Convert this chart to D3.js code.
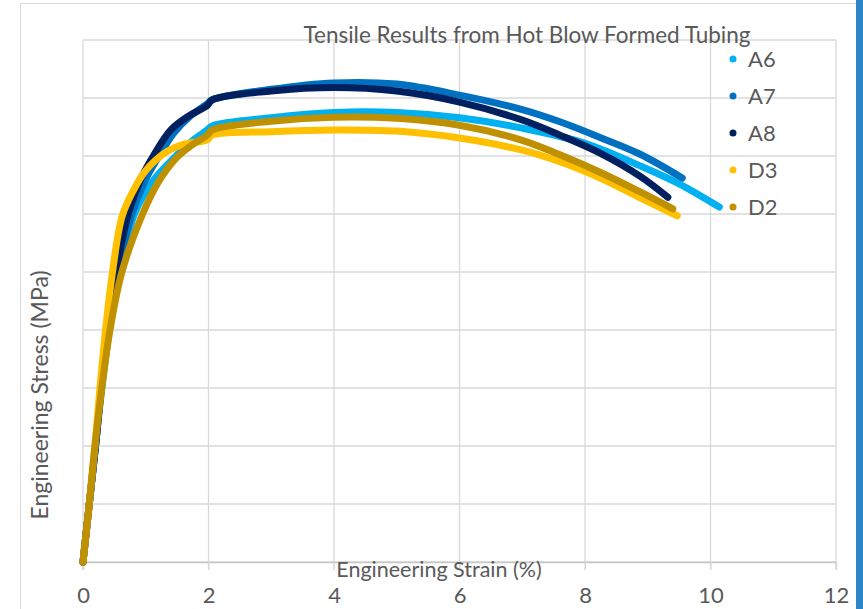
<!DOCTYPE html>
<html>
<head>
<meta charset="utf-8">
<script src="https://cdn.jsdelivr.net/npm/d3@7"></script>
<style>
  body { margin: 0; background: #fff; }
  svg { display: block; font-family: Lato, "Open Sans", sans-serif; }
</style>
</head>
<body>
<div class="diagram"></div>
<script>
// strain (%) / stress pairs
const seriesNames = ["A6", "A7", "A8", "D3", "D2"];
const seriesColors = ["#00b0f0", "#0070c0", "#002060", "#ffc000", "#bf9000"];

const A6 = [[0,0],[0.1,100],[0.2,200],[0.3,300],[0.42,400],[0.58,500],[0.82,600],[1.1,655],[1.5,702],[1.75,727],[1.98,745],[2.06,752],[3,766],[4,775],[5,775],[6,766],[7,748],[8,722],[8.88,683],[9.5,652],[10.14,612]];
const A7 = [[0,0],[0.1,100],[0.2,200],[0.29,300],[0.41,400],[0.56,500],[0.78,600],[1.0,660],[1.2,698],[1.45,740],[1.7,768],[1.98,790],[2.06,797],[3,815],[4,826],[5,824],[6,805],[7,780],[7.6,759],[8.24,732],[8.88,703],[9.55,662]];
const A8 = [[0,0],[0.1,100],[0.2,200],[0.29,300],[0.4,400],[0.53,500],[0.72,600],[0.92,660],[1.12,700],[1.4,745],[1.7,770],[1.98,787],[2.06,797],[3,812],[4,818],[5,812],[6,793],[7,762],[7.6,736],[8.24,705],[8.88,665],[9.32,629]];
const D3 = [[0,0],[0.1,100],[0.19,200],[0.27,300],[0.36,400],[0.47,500],[0.62,595],[0.8,640],[1.0,675],[1.3,705],[1.6,720],[1.98,728],[2.06,736],[3,742],[4,745],[5,743],[6,731],[7,710],[7.6,690],[8.24,662],[8.88,628],[9.47,597]];
const D2 = [[0,0],[0.1,100],[0.19,200],[0.3,300],[0.43,400],[0.62,500],[0.95,600],[1.2,655],[1.5,698],[1.75,720],[1.98,736],[2.06,745],[3,760],[4,767],[5,765],[6,753],[7,727],[7.6,702],[8.24,672],[8.88,638],[9.4,609]];
const seriesData = [A6, A7, A8, D3, D2];

const xTicks = [0, 2, 4, 6, 8, 10, 12];
const yTicks = [0, 100, 200, 300, 400, 500, 600, 700, 800, 900];

const W = 863, H = 609;
const svg = d3.select(".diagram").append("svg")
  .attr("width", W).attr("height", H);

// chart frame (left/top edges) and slide accent bar
svg.append("path")
  .attr("d", "M20.5,609 V3.5 H856")
  .attr("fill", "none").attr("stroke", "#d9d9d9");
svg.append("rect")
  .attr("x", 856).attr("y", 0).attr("width", 7).attr("height", H)
  .attr("fill", "#2a86c9");

const x = d3.scaleLinear().domain([0, 12]).range([83, 836]);
const y = d3.scaleLinear().domain([0, 900]).range([562, 40]);

// gridlines
svg.append("g")
  .selectAll("line").data(yTicks).join("line")
    .attr("x1", x(0)).attr("x2", x(12))
    .attr("y1", d => y(d)).attr("y2", d => y(d))
    .attr("stroke", "#d9d9d9").attr("stroke-width", 1.3);
svg.append("g")
  .selectAll("line").data(xTicks).join("line")
    .attr("x1", d => x(d)).attr("x2", d => x(d))
    .attr("y1", y(900)).attr("y2", y(0) + 8)
    .attr("stroke", "#d9d9d9").attr("stroke-width", 1.3);

// x axis
const xAxis = svg.append("g")
  .attr("transform", `translate(0, ${y(0)})`)
  .call(d3.axisBottom(x).tickValues(xTicks).tickSize(8).tickPadding(17));
xAxis.select(".domain").attr("stroke", "#c8c8c8").attr("stroke-width", 1.5);
xAxis.selectAll(".tick line").attr("stroke", "#d9d9d9");
xAxis.selectAll("text")
  .style("font-size", "22px").attr("fill", "#595959").attr("font-family", "Lato");

// curves
const line = d3.line()
  .x(d => x(d[0]))
  .y(d => y(d[1]))
  .curve(d3.curveCatmullRom.alpha(0.5));

svg.append("g").selectAll("path").data(seriesData).join("path")
  .attr("d", line)
  .attr("fill", "none")
  .attr("stroke", (d, i) => seriesColors[i])
  .attr("stroke-width", 7)
  .attr("stroke-linecap", "round")
  .attr("stroke-linejoin", "round");

// titles
svg.append("text")
  .attr("x", 527).attr("y", 43)
  .attr("text-anchor", "middle")
  .style("font-size", "22.5px").attr("fill", "#595959")
  .text("Tensile Results from Hot Blow Formed Tubing");

svg.append("text")
  .attr("x", 439).attr("y", 577)
  .attr("text-anchor", "middle")
  .style("font-size", "21.5px").attr("fill", "#595959")
  .text("Engineering Strain (%)");

svg.append("text")
  .attr("transform", "translate(48, 395) rotate(-90)")
  .attr("text-anchor", "middle")
  .style("font-size", "23px").attr("fill", "#595959")
  .text("Engineering Stress (MPa)");

// legend
const legend = svg.append("g").selectAll("g").data(seriesNames).join("g")
  .attr("transform", (d, i) => `translate(733, ${59 + i * 37})`);
legend.append("circle")
  .attr("r", 3.5)
  .attr("fill", (d, i) => seriesColors[i]);
legend.append("text")
  .attr("x", 15).attr("y", 8)
  .style("font-size", "22px").attr("fill", "#595959")
  .text(d => d);
</script>
</body>
</html>
